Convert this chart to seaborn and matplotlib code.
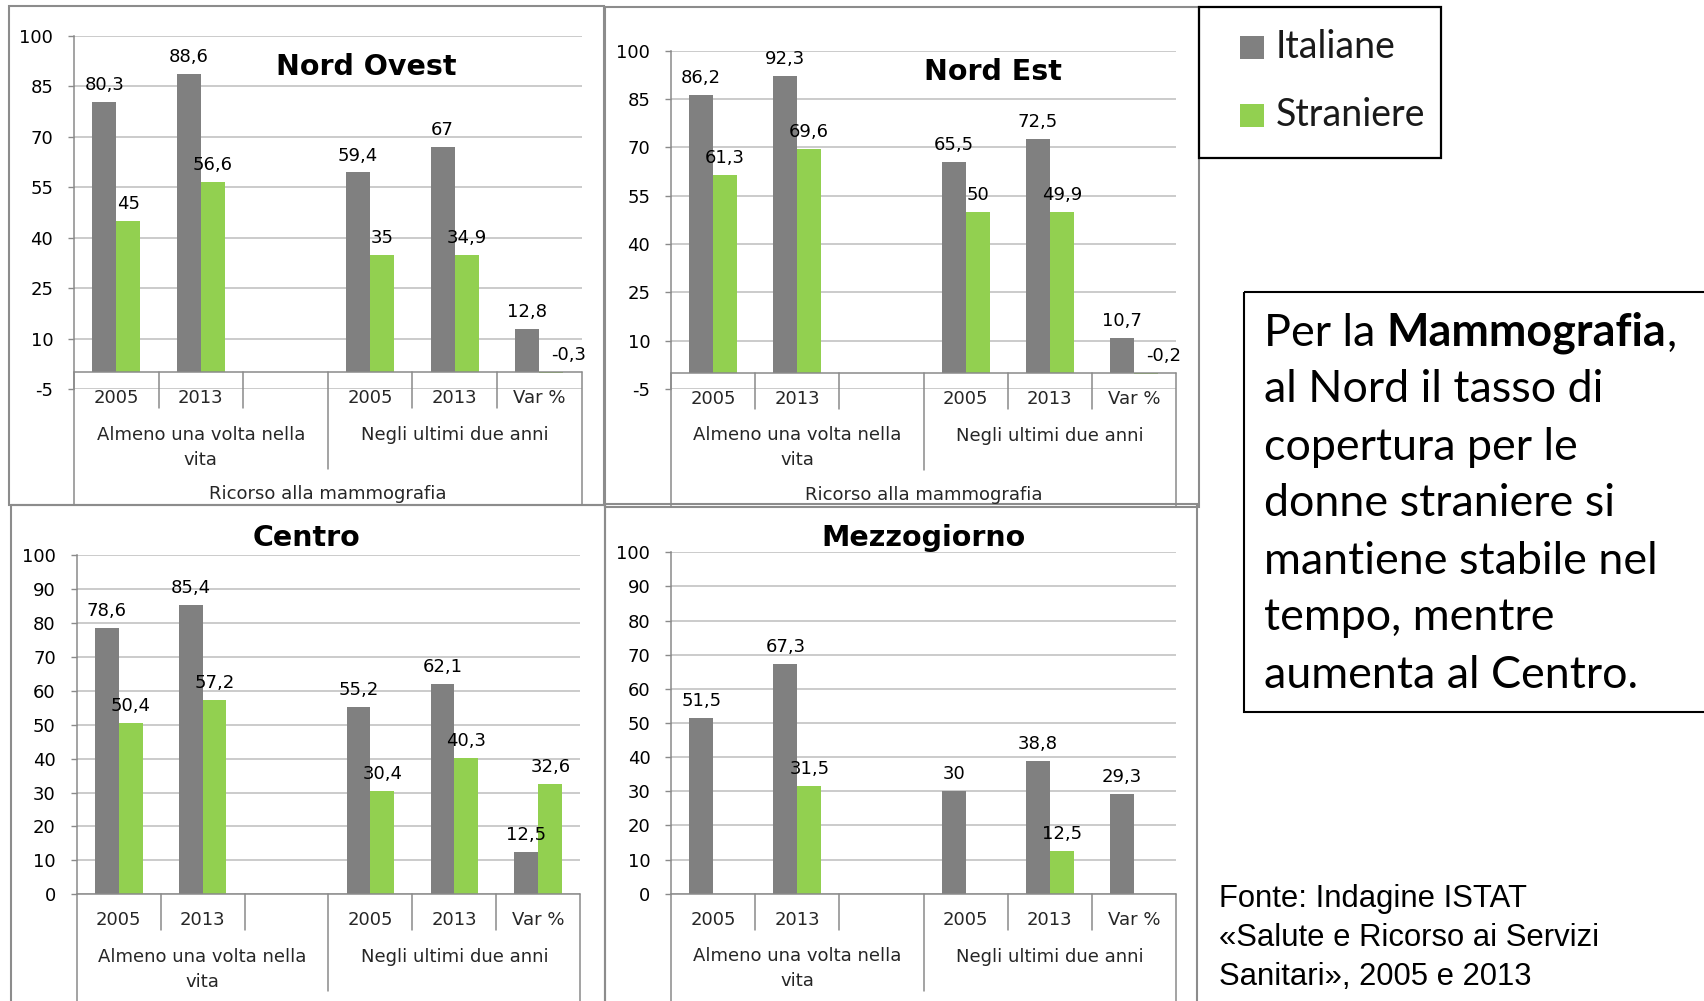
import numpy as np
import pandas as pd
import matplotlib
matplotlib.use("Agg")
import matplotlib.pyplot as plt
import seaborn as sns
from matplotlib.patches import Rectangle

W, H, DPI = 1704, 1001, 100

sns.set_theme(style="white")
plt.rcParams["font.family"] = ["DejaVu Sans"]
plt.rcParams["axes.unicode_minus"] = False

# ---- data -------------------------------------------------------------
cat_keys = ["vita_2005", "vita_2013", "vita_vuoto", "biennio_2005", "biennio_2013", "biennio_var"]
cat_labels = ["2005", "2013", "", "2005", "2013", "Var %"]
group_labels = ["Almeno una volta nella\nvita", "Negli ultimi due anni"]
outer_label = "Ricorso alla mammografia"
series = ["Italiane", "Straniere"]

nord_ovest_italiane = [80.3, 88.6, np.nan, 59.4, 67.0, 12.8]
nord_ovest_straniere = [45.0, 56.6, np.nan, 35.0, 34.9, -0.3]
nord_est_italiane = [86.2, 92.3, np.nan, 65.5, 72.5, 10.7]
nord_est_straniere = [61.3, 69.6, np.nan, 50.0, 49.9, -0.2]
centro_italiane = [78.6, 85.4, np.nan, 55.2, 62.1, 12.5]
centro_straniere = [50.4, 57.2, np.nan, 30.4, 40.3, 32.6]
mezzogiorno_italiane = [51.5, 67.3, np.nan, 30.0, 38.8, 29.3]
mezzogiorno_straniere = [np.nan, 31.5, np.nan, np.nan, 12.5, np.nan]

ticks_nord = [-5, 10, 25, 40, 55, 70, 85, 100]
ticks_sud = [0, 10, 20, 30, 40, 50, 60, 70, 80, 90, 100]

palette = {"Italiane": "#808080", "Straniere": "#92d050"}
AXIS_GRAY = "#8a8a8a"
GRID_GRAY = "#bdbdbd"
FRAME_GRAY = "#8c8c8c"
FS = 13

fig = plt.figure(figsize=(W / DPI, H / DPI), dpi=DPI)
fig.patch.set_facecolor("white")


def fig_axes(l, t, r, b):
    return fig.add_axes([l / W, 1 - b / H, (r - l) / W, (b - t) / H])


def fmt_it(v):
    if float(v).is_integer():
        return f"{int(v)}"
    return f"{v:.1f}".replace(".", ",")


panels = [
    dict(title="Nord Ovest", ita=nord_ovest_italiane, stra=nord_ovest_straniere,
         box=(74, 36, 581.5, 389), ylim=(-5, 100), ticks=ticks_nord,
         title_xy=(366, 67), frame=(9, 6, 604, 505), outer=True),
    dict(title="Nord Est", ita=nord_est_italiane, stra=nord_est_straniere,
         box=(671, 50.7, 1176, 389), ylim=(-5, 100), ticks=ticks_nord,
         title_xy=(993, 72), frame=(605, 7, 1199, 507), outer=True),
    dict(title="Centro", ita=centro_italiane, stra=centro_straniere,
         box=(76.6, 555, 580.4, 894.3), ylim=(0, 100), ticks=ticks_sud,
         title_xy=(307, 538), frame=(11, 505, 605, 1015), outer=False),
    dict(title="Mezzogiorno", ita=mezzogiorno_italiane, stra=mezzogiorno_straniere,
         box=(671.2, 552.3, 1175.8, 893.7), ylim=(0, 100), ticks=ticks_sud,
         title_xy=(923, 538), frame=(605, 504, 1197, 1015), outer=False),
]

# overlay in pixel coordinates for frames, titles and side texts
ov = fig.add_axes([0, 0, 1, 1], zorder=-1)
ov.set_xlim(0, W)
ov.set_ylim(H, 0)
ov.set_axis_off()

for p in panels:
    l, t, r, b = p["box"]
    ymin, ymax = p["ylim"]
    ax = fig_axes(l, t, r, b)

    df = pd.DataFrame({
        "cat": cat_keys * 2,
        "serie": [s for s in series for _ in cat_keys],
        "valore": list(p["ita"]) + list(p["stra"]),
    }).dropna()

    sns.barplot(data=df, x="cat", y="valore", hue="serie", order=cat_keys,
                hue_order=series, palette=palette, width=0.57, saturation=1,
                errorbar=None, linewidth=0, legend=False, ax=ax, zorder=3)

    ax.set_xlim(-0.5, 5.5)
    ax.set_ylim(ymin, ymax)
    ax.set_xticks([])
    ax.set_yticks(p["ticks"])
    ax.set_xlabel("")
    ax.set_ylabel("")
    ax.set_facecolor("none")
    ax.yaxis.grid(True, color=GRID_GRAY, lw=1.1, zorder=0)
    ax.set_axisbelow(True)
    ax.tick_params(axis="y", left=True, length=4.5, width=1, color=AXIS_GRAY,
                   direction="out", pad=10.5, labelsize=FS, labelcolor="black")
    for s in ["top", "right", "bottom"]:
        ax.spines[s].set_visible(False)
    ax.spines["left"].set_color(AXIS_GRAY)
    ax.spines["left"].set_linewidth(1.1)

    # category axis crosses at zero
    ax.axhline(0, color=AXIS_GRAY, lw=1.1, zorder=4, clip_on=False)

    # value labels above each bar (negative ones sit just right of the bar)
    for container in ax.containers:
        for bar in container:
            h = bar.get_height()
            if np.isnan(h):
                continue
            xc = bar.get_x() + bar.get_width() / 2
            ax.annotate(fmt_it(h), xy=(xc, max(h, 0)), xytext=(0, 8.6),
                        textcoords="offset points",
                        ha="center" if h >= 0 else "left", va="baseline",
                        fontsize=FS, color="black", zorder=5)

    # multi-level category labels below the zero line
    dpp = (ymax - ymin) / (b - t)
    y0_px = b - (0 - ymin) / dpp

    def below(px):
        return -px * dpp

    line_kw = dict(color=AXIS_GRAY, lw=1.1, clip_on=False, zorder=4)
    for xs in [0.5, 1.5, 3.5, 4.5]:
        ax.plot([xs, xs], [0, below(36)], **line_kw)
    ax.plot([2.5, 2.5], [0, below(97)], **line_kw)
    outer_px = p["frame"][3] - y0_px
    for xs in [-0.5, 5.5]:
        ax.plot([xs, xs], [0, below(outer_px)], **line_kw)

    for i, lab in enumerate(cat_labels):
        ax.text(i, below(26), lab, ha="center", va="center", fontsize=FS, clip_on=False)
    ax.text(1.0, below(75), group_labels[0], ha="center", va="center",
            fontsize=FS, linespacing=1.5, clip_on=False)
    ax.text(4.0, below(63), group_labels[1], ha="center", va="center",
            fontsize=FS, clip_on=False)
    if p["outer"]:
        ax.text(2.5, below(122), outer_label, ha="center", va="center",
                fontsize=FS, clip_on=False)

    # title and panel frame
    tx, ty = p["title_xy"]
    ov.text(tx, ty, p["title"], ha="center", va="center", fontsize=20.5,
            fontweight="bold", color="black")
    fl, ft, fr, fb = p["frame"]
    ov.add_patch(Rectangle((fl, ft), fr - fl, fb - ft, fill=False,
                           edgecolor=FRAME_GRAY, lw=1.5, clip_on=False))

# ---- legend -----------------------------------------------------------
ov.add_patch(Rectangle((1199, 7), 242, 151, fill=False, edgecolor="black",
                       lw=1.6, clip_on=False))
legend_rows = [(series[0], 47), (series[1], 115)]
for name, yc in legend_rows:
    ov.add_patch(Rectangle((1240, yc - 11.5), 24, 23, facecolor=palette[name],
                           edgecolor="none"))
    ov.text(1276, yc, name, ha="left", va="center", fontsize=27,
            family="Lato", color="#1a1a1a")

# ---- comment box ------------------------------------------------------
ov.add_patch(Rectangle((1244, 292), 480, 420, fill=False, edgecolor="black",
                       lw=1.5, clip_on=False))
box_font = dict(family="Lato", fontsize=32.3, color="black")
line_y = [333, 390, 447, 504, 561, 618, 675]
t_a = ov.text(1264, line_y[0], "Per la ", ha="left", va="center", **box_font)
t_b = ov.annotate("Mammografia", xy=(1, 0), xycoords=t_a, ha="left", va="bottom",
                  fontweight="bold", **box_font)
ov.annotate(",", xy=(1, 0), xycoords=t_b, ha="left", va="bottom", **box_font)
box_lines = ["al Nord il tasso di", "copertura per le", "donne straniere si",
             "mantiene stabile nel", "tempo, mentre", "aumenta al Centro."]
for txt, yc in zip(box_lines, line_y[1:]):
    ov.text(1264, yc, txt, ha="left", va="center", **box_font)

# ---- source -----------------------------------------------------------
source_lines = ["Fonte: Indagine ISTAT", "«Salute e Ricorso ai Servizi",
                "Sanitari», 2005 e 2013"]
for txt, yc in zip(source_lines, [899, 938, 977]):
    ov.text(1219, yc, txt, ha="left", va="center", fontsize=22.3,
            family="Liberation Sans", color="black")

fig.savefig("out.png", dpi=DPI, facecolor="white")
